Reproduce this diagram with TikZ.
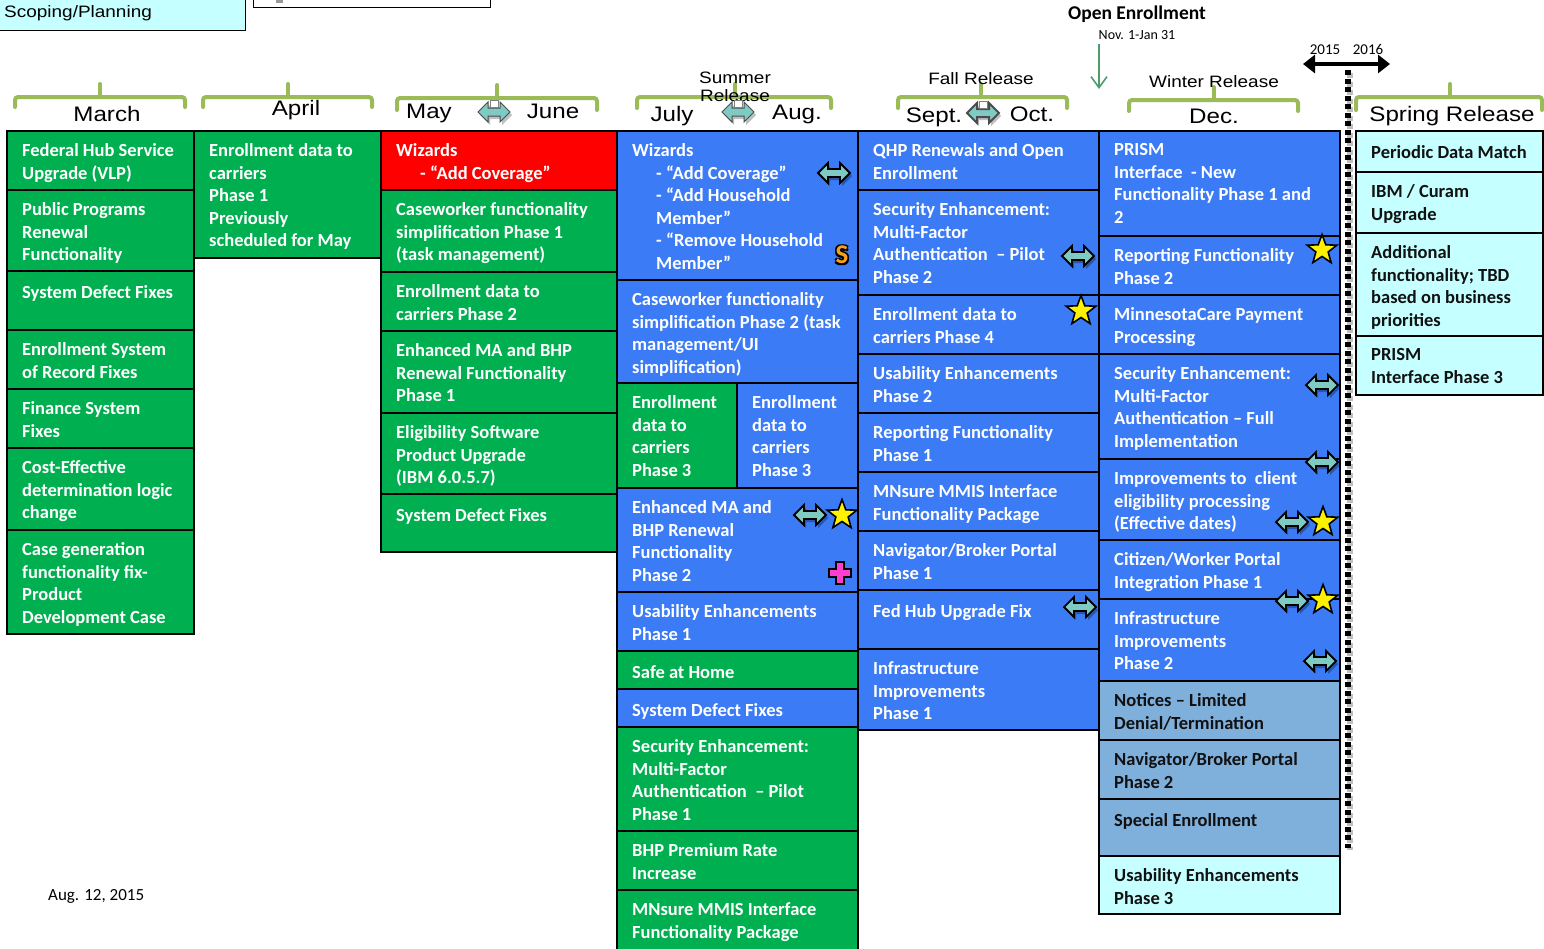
\documentclass[tikz,border=0pt]{standalone}
\usepackage{fontspec}
\setmainfont{Carlito}
\newfontfamily\hdrfont[FakeStretch=1.15]{Liberation Sans}
\usetikzlibrary{arrows.meta,shapes.geometric}
\definecolor{grn}{HTML}{00B050}
\definecolor{blu}{HTML}{3B7BF6}
\definecolor{lbl}{HTML}{7FAFDB}
\definecolor{cyn}{HTML}{C5FFFF}
\definecolor{brk}{HTML}{9BBB59}
\definecolor{tea}{HTML}{7FCBC4}
\definecolor{oeg}{HTML}{4E9C6E}
\definecolor{pnk}{HTML}{FF3DCF}
\definecolor{org}{HTML}{F7A01B}
\definecolor{dk}{HTML}{111111}
\tikzset{
 cellbox/.style={draw=black, line width=2pt},
 celltxt/.style={anchor=north west, inner sep=0pt, align=left,
   font=\bfseries\fontsize{18.5}{22.5}\selectfont, execute at begin node={\rule{0pt}{15pt}}},
 hdr/.style={anchor=base, inner sep=0pt, font=\hdrfont\fontsize{21}{24}\selectfont},
 sublbl/.style={anchor=base, inner sep=0pt, font=\hdrfont\fontsize{16.5}{18}\selectfont},
 bracket/.style={draw=brk, line width=4pt, rounded corners=3pt, line cap=round},
 starsh/.style={star, star points=5, star point ratio=2.4, minimum size=31pt, inner sep=0pt,
   fill=yellow, draw=black, line width=1.6pt},
 smark/.style={inner sep=0pt, font=\bfseries\fontsize{27}{27}\selectfont},
}
\newcommand\mycell[8]{%
  \draw[cellbox, fill=#6] (#2,#3) rectangle (#4,#5);
  \node[celltxt, text=#7] (#1) at (#2+15,#3+12.5) {#8};
}
\newcommand\brkt[5]{%
  \draw[bracket] (#1,#5) -- (#1,#4) -- (#2,#4) -- (#2,#5);
  \draw[bracket] (#3,#4) -- (#3,#4-13);
}
\newcommand\dblpath{(-16,0) -- (-6,-10) -- (-6,-4) -- (6,-4) -- (6,-10) -- (16,0) -- (6,10) -- (6,4) -- (-6,4) -- (-6,10) -- cycle}
\newcommand\dbl[2]{%
  \begin{scope}[shift={(#1+2,#2+3)}]\fill[black, opacity=.3] \dblpath;\end{scope}
  \begin{scope}[shift={(#1,#2)}]\draw[fill=tea, line width=1.8pt, line join=miter] \dblpath;\end{scope}
}
\newcommand\hdbl[3]{%
  \begin{scope}[shift={(#1+2,#2+3)}]\fill[black, opacity=.25] \dblpath;\end{scope}
  \begin{scope}[shift={(#1,#2)}]\draw[fill=tea, line width=#3, draw=black!70] \dblpath;
  \draw[fill=white, draw=black!50, line width=.8pt] (-4,-12) rectangle (4,-5);\end{scope}
}
\begin{document}
\begin{tikzpicture}[x=1pt,y=-1pt]
\useasboundingbox (0,0) rectangle (1544,948);
\clip (0,0) rectangle (1544,948);
\fill[white] (0,0) rectangle (1544,948);

% legend
\draw[fill=cyn, line width=1pt] (-5,-5) rectangle (245,30);
\node[anchor=base west, inner sep=0pt, font=\hdrfont\fontsize{16.5}{18}\selectfont] (leg) at (4,17) {Scoping/Planning};
\draw[fill=white, line width=1pt] (253,-5) rectangle (490,7);
\fill[black!40] (276,0) rectangle (283,3);

% brackets
\brkt{15}{185}{100}{97}{107}
\brkt{203}{372}{288}{97}{107}
\brkt{397}{597}{497}{98}{110}
\brkt{637}{831}{735}{97}{108}
\brkt{898}{1067}{981}{97}{108}
\brkt{1129}{1298}{1214}{100}{111}
\brkt{1356}{1542}{1450}{97}{110}

% headers
\node[hdr] (hMar) at (107,121) {March};
\node[hdr] (hApr) at (296,115) {April};
\node[hdr] (hMay) at (429,118) {May};
\node[hdr] (hJun) at (553,118) {June};
\node[hdr] (hJul) at (672,121) {July};
\node[hdr] (hAug) at (797,119) {Aug.};
\node[hdr] (hSep) at (934,122) {Sept.};
\node[hdr] (hOct) at (1032,121) {Oct.};
\node[hdr] (hDec) at (1214,123) {Dec.};
\node[hdr] (hSpr) at (1452,121) {Spring Release};
\node[sublbl] (lSum) at (735,83) {Summer};
\node[sublbl] (lSum2) at (735,101) {Release};
\node[sublbl] (lFall) at (981,84) {Fall Release};
\node[sublbl] (lWin) at (1214,87) {Winter Release};

\hdbl{494}{112}{1pt}
\hdbl{738}{112}{1pt}
\hdbl{983}{113}{2pt}

% open enrollment
\node[anchor=base, inner sep=0pt, font=\bfseries\fontsize{19.5}{22}\selectfont] (oe) at (1137,19) {Open Enrollment};
\node[anchor=base, inner sep=0pt, font=\fontsize{14}{15}\selectfont] (oed) at (1137,39) {Nov. 1-Jan 31};
\coordinate (oeA) at (1099,44);
\coordinate (oeB) at (1099,89);
\draw[oeg, line width=1.6pt, -{Straight Barb[length=11pt,width=16pt]}] (oeA) -- (oeB);

% 2015 / 2016
\node[anchor=base, inner sep=0pt, font=\fontsize{15}{17}\selectfont] (y15) at (1325,54) {2015};
\node[anchor=base, inner sep=0pt, font=\fontsize{15}{17}\selectfont] (y16) at (1368,54) {2016};
\coordinate (yA) at (1303,64);
\coordinate (yB) at (1390,64);
\draw[line width=4pt, {Triangle[length=12pt,width=18pt]}-{Triangle[length=12pt,width=18pt]}] (yA) -- (yB);

% March
\mycell{m1}{7}{131}{194}{190}{grn}{white}{Federal Hub Service\\Upgrade (VLP)}
\mycell{m2}{7}{190}{194}{271}{grn}{white}{Public Programs\\Renewal\\Functionality}
\mycell{m3}{7}{271}{194}{330}{grn}{white}{System Defect Fixes}
\mycell{m4}{7}{330}{194}{389}{grn}{white}{Enrollment System\\of Record Fixes}
\mycell{m5}{7}{389}{194}{448}{grn}{white}{Finance System\\Fixes}
\mycell{m6}{7}{448}{194}{530}{grn}{white}{Cost-Effective\\determination logic\\change}
\mycell{m7}{7}{530}{194}{634}{grn}{white}{Case generation\\functionality fix-\\Product\\Development Case}
% April
\mycell{a1}{194}{131}{381}{258}{grn}{white}{Enrollment data to\\carriers\\Phase 1\\Previously\\scheduled for May}
% May/June
\mycell{j1}{381}{131}{617}{190}{red}{white}{Wizards\\\hspace*{24pt}- “Add Coverage”}
\mycell{j2}{381}{190}{617}{272}{grn}{white}{Caseworker functionality\\simplification Phase 1\\(task management)}
\mycell{j3}{381}{272}{617}{331}{grn}{white}{Enrollment data to\\carriers Phase 2}
\mycell{j4}{381}{331}{617}{413}{grn}{white}{Enhanced MA and BHP\\Renewal Functionality\\Phase 1}
\mycell{j5}{381}{413}{617}{494}{grn}{white}{Eligibility Software\\Product Upgrade\\(IBM 6.0.5.7)}
\mycell{j6}{381}{494}{617}{552}{grn}{white}{System Defect Fixes}
% July/Aug
\mycell{k1}{617}{131}{858}{280}{blu}{white}{Wizards\\\hspace*{24pt}- “Add Coverage”\\\hspace*{24pt}- “Add Household\\\hspace*{24pt}Member”\\\hspace*{24pt}- “Remove Household\\\hspace*{24pt}Member”}
\mycell{k2}{617}{280}{858}{383}{blu}{white}{Caseworker functionality\\simplification Phase 2 (task\\management/UI\\simplification)}
\mycell{k3a}{617}{383}{737}{488}{grn}{white}{Enrollment\\data to\\carriers\\Phase 3}
\mycell{k3b}{737}{383}{858}{488}{blu}{white}{Enrollment\\data to\\carriers\\Phase 3}
\mycell{k4}{617}{488}{858}{592}{blu}{white}{Enhanced MA and\\BHP Renewal\\Functionality\\Phase 2}
\mycell{k5}{617}{592}{858}{651}{blu}{white}{Usability Enhancements\\Phase 1}
\mycell{k6}{617}{651}{858}{689}{grn}{white}{Safe at Home}
\mycell{k7}{617}{689}{858}{727}{blu}{white}{System Defect Fixes}
\mycell{k8}{617}{727}{858}{831}{grn}{white}{Security Enhancement:\\Multi-Factor\\Authentication ~– Pilot\\Phase 1}
\mycell{k9}{617}{831}{858}{890}{grn}{white}{BHP Premium Rate\\Increase}
\mycell{k10}{617}{890}{858}{955}{grn}{white}{MNsure MMIS Interface\\Functionality Package}
% Sept/Oct
\mycell{s1}{858}{131}{1099}{190}{blu}{white}{QHP Renewals and Open\\Enrollment}
\mycell{s2}{858}{190}{1099}{295}{blu}{white}{Security Enhancement:\\Multi-Factor\\Authentication ~– Pilot\\Phase 2}
\mycell{s3}{858}{295}{1099}{354}{blu}{white}{Enrollment data to\\carriers Phase 4}
\mycell{s4}{858}{354}{1099}{413}{blu}{white}{Usability Enhancements\\Phase 2}
\mycell{s5}{858}{413}{1099}{472}{blu}{white}{Reporting Functionality\\Phase 1}
\mycell{s6}{858}{472}{1099}{531}{blu}{white}{MNsure MMIS Interface\\Functionality Package}
\mycell{s7}{858}{531}{1099}{590}{blu}{white}{Navigator/Broker Portal\\Phase 1}
\mycell{s8}{858}{590}{1099}{649}{blu}{white}{Fed Hub Upgrade Fix}
\mycell{s9}{858}{649}{1099}{730}{blu}{white}{Infrastructure\\Improvements\\Phase 1}
% Dec
\mycell{d1}{1099}{131}{1340}{236}{blu}{white}{PRISM\\Interface ~- New\\Functionality Phase 1 and\\2}
\mycell{d2}{1099}{236}{1340}{295}{blu}{white}{Reporting Functionality\\Phase 2}
\mycell{d3}{1099}{295}{1340}{354}{blu}{white}{MinnesotaCare Payment\\Processing}
\mycell{d4}{1099}{354}{1340}{459}{blu}{white}{Security Enhancement:\\Multi-Factor\\Authentication – Full\\Implementation}
\mycell{d5}{1099}{459}{1340}{540}{blu}{white}{Improvements to ~client\\eligibility processing\\(Effective dates)}
\mycell{d6}{1099}{540}{1340}{599}{blu}{white}{Citizen/Worker Portal\\Integration Phase 1}
\mycell{d7}{1099}{599}{1340}{681}{blu}{white}{Infrastructure\\Improvements\\Phase 2}
\mycell{d8}{1099}{681}{1340}{740}{lbl}{dk}{Notices – Limited\\Denial/Termination}
\mycell{d9}{1099}{740}{1340}{799}{lbl}{dk}{Navigator/Broker Portal\\Phase 2}
\mycell{d10}{1099}{799}{1340}{856}{lbl}{dk}{Special Enrollment}
\mycell{d11}{1099}{856}{1340}{914}{cyn}{dk}{Usability Enhancements\\Phase 3}
% Spring
\mycell{p1}{1356}{131}{1543}{172}{cyn}{dk}{Periodic Data Match}
\mycell{p2}{1356}{172}{1543}{233}{cyn}{dk}{IBM / Curam\\Upgrade}
\mycell{p3}{1356}{233}{1543}{336}{cyn}{dk}{Additional\\functionality; TBD\\based on business\\priorities}
\mycell{p4}{1356}{336}{1543}{395}{cyn}{dk}{PRISM\\Interface Phase 3}

% dotted year divider
\draw[black, opacity=.25, line width=6pt, dash pattern=on 5pt off 3.5pt] (1350,73) -- (1350,850);
\draw[black, line width=6pt, dash pattern=on 5pt off 3.5pt] (1348,70) -- (1348,848);

% icons
\dbl{834}{173}
\dbl{1078}{256}
\dbl{810}{515}
\dbl{1080}{607}
\dbl{1322}{385}
\dbl{1322}{462}
\dbl{1292}{522}
\dbl{1292}{601}
\dbl{1320}{661}
\node[starsh] (st1) at (1322,250) {};
\node[starsh] (st2) at (1081,311) {};
\node[starsh] (st3) at (842,515) {};
\node[starsh] (st4) at (1323,522) {};
\node[starsh] (st5) at (1323,600) {};
\node[smark, text=black] (sA) at (843.5,256.5) {S};
\node[smark, text=black] (sB) at (840.5,253.5) {S};
\node[smark, text=black] (sC) at (843.5,253.5) {S};
\node[smark, text=black] (sD) at (840.5,256.5) {S};
\node[smark, text=org] (sE) at (842,255) {S};
\begin{scope}[shift={(840,573)}]
\draw[fill=pnk, line width=1.8pt] (-4,-11) -- (4,-11) -- (4,-4) -- (11,-4) -- (11,4) -- (4,4) -- (4,11) -- (-4,11) -- (-4,4) -- (-11,4) -- (-11,-4) -- (-4,-4) -- cycle;
\end{scope}

% date
\node[anchor=base west, inner sep=0pt, font=\fontsize{17}{20}\selectfont] (date) at (48,900) {Aug. 12, 2015};
\end{tikzpicture}
\end{document}
